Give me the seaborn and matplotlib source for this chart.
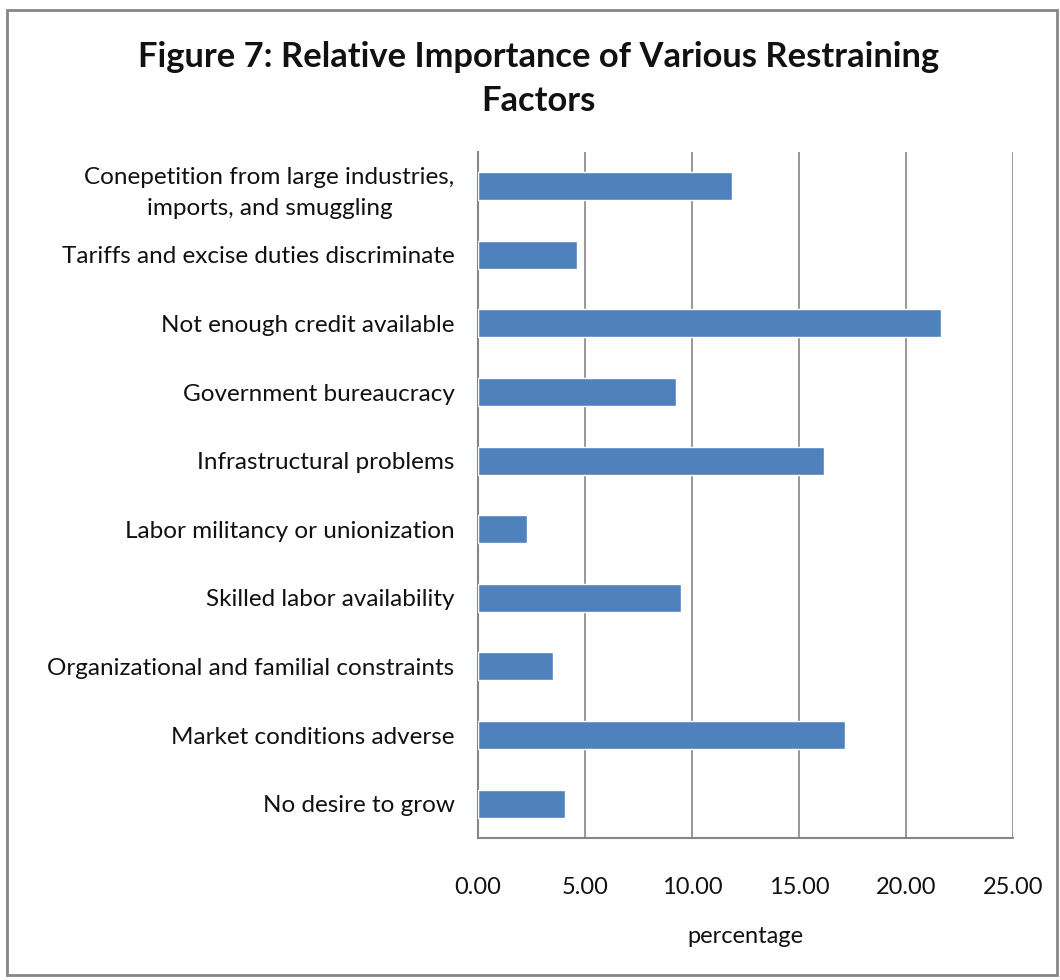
import matplotlib
matplotlib.use("Agg")
import matplotlib.pyplot as plt
import seaborn as sns
import pandas as pd
from matplotlib.patches import Rectangle

factors = [
    "Conepetition from large industries,\nimports, and smuggling",
    "Tariffs and excise duties discriminate",
    "Not enough credit available",
    "Government bureaucracy",
    "Infrastructural problems",
    "Labor militancy or unionization",
    "Skilled labor availability",
    "Organizational and familial constraints",
    "Market conditions adverse",
    "No desire to grow",
]
percentage = [11.87, 4.61, 21.62, 9.24, 16.18, 2.30, 9.48, 3.48, 17.13, 4.08]
xticks = [0, 5, 10, 15, 20, 25]

df = pd.DataFrame({"factor": factors, "percentage": percentage})

sns.set_style("white")
plt.rcParams["font.family"] = ["Lato", "DejaVu Sans"]

fig = plt.figure(figsize=(10.6, 9.8), dpi=100)
ax = fig.add_axes([0.451, 0.145, 0.5047, 0.700])

sns.barplot(data=df, x="percentage", y="factor", color="#4F81BD",
            saturation=1, width=0.41, ax=ax, zorder=3)

ax.set_xlim(0, 25)
ax.set_ylim(len(factors) - 0.5, -0.5)
ax.set_xticks(xticks)
ax.set_xticklabels([f"{t:.2f}" for t in xticks], fontsize=17, color="#111111")
ax.tick_params(axis="x", direction="out", length=8, width=1.5, color="#868686", pad=20)
ax.tick_params(axis="y", length=0, pad=17, labelsize=17.5, labelcolor="#111111")
for lbl in ax.get_yticklabels():
    lbl.set_horizontalalignment("right")
    lbl.set_multialignment("center")
    lbl.set_linespacing(1.55)
ax.set_xlabel("percentage", fontsize=17, labelpad=20, color="#111111")
ax.set_ylabel("")

ax.grid(axis="x", color="#868686", linewidth=1.2, zorder=0)
for side in ["top", "right"]:
    ax.spines[side].set_visible(False)
for side in ["left", "bottom"]:
    ax.spines[side].set_color("#868686")
    ax.spines[side].set_linewidth(1.5)

fig.suptitle("Figure 7: Relative Importance of Various Restraining\nFactors",
             fontsize=24.8, fontweight="bold", x=0.508, y=0.958, linespacing=1.45,
             color="#111111")

fig.patches.append(Rectangle((0.007, 0.005), 0.99, 0.985, transform=fig.transFigure,
                             fill=False, edgecolor="#868686", linewidth=2))

fig.savefig("out.png", dpi=100)
